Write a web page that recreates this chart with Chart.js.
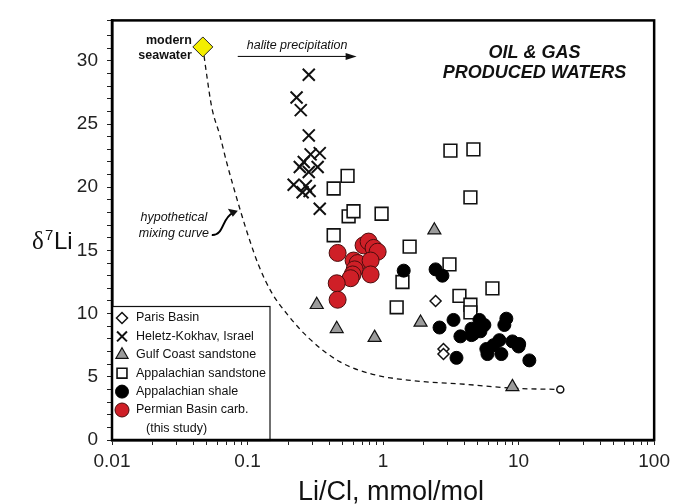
<!DOCTYPE html>
<html>
<head>
<meta charset="utf-8">
<title>d7Li vs Li/Cl</title>
<script src="https://cdn.jsdelivr.net/npm/chart.js@4.4.1/dist/chart.umd.min.js"></script>
<style>
  html, body { margin: 0; padding: 0; background: #fff; }
  canvas { display: block; }
</style>
</head>
<body>
<canvas id="grafico" width="675" height="504"></canvas>
<script>
// Values: Li/Cl (mmol/mol) and d7Li (permil)
const parisLiCl = [2.44, 2.79, 2.79];
const parisD7Li = [11.0, 7.2, 6.8];

const heletzLiCl = [0.283, 0.230, 0.247, 0.283, 0.341, 0.260, 0.292, 0.243, 0.283, 0.329, 0.219, 0.269, 0.255, 0.287, 0.341];
const heletzD7Li = [28.9, 27.1, 26.1, 24.1, 22.7, 22.0, 22.6, 21.6, 21.2, 21.6, 20.2, 20.1, 19.6, 19.7, 18.3];

const gulfLiCl = [2.39, 1.89, 0.324, 0.455, 0.866, 9.0];
const gulfD7Li = [16.6, 9.3, 10.7, 8.8, 8.1, 4.2];

const appSandLiCl = [3.14, 4.64, 4.41, 0.547, 0.432, 0.557, 0.605, 0.975, 0.432, 1.57, 3.09, 1.39, 3.66, 6.41, 4.41, 4.41, 1.26];
const appSandD7Li = [22.9, 23.0, 19.2, 20.9, 19.9, 17.7, 18.1, 17.9, 16.2, 15.3, 13.9, 12.5, 11.4, 12.0, 10.7, 10.1, 10.5];

const appShaleLiCl = [1.42, 2.44, 2.74, 2.61, 3.31, 3.72, 4.49, 4.49, 5.14, 5.59, 5.23, 4.64, 8.12, 7.85, 7.21, 6.52, 5.78, 5.89, 7.46, 9.0, 10.1, 10.0, 3.48, 12.0];
const appShaleD7Li = [13.4, 13.5, 13.0, 8.9, 9.5, 8.2, 8.8, 8.3, 9.5, 9.1, 8.6, 8.4, 9.6, 9.1, 7.9, 7.5, 7.2, 6.8, 6.8, 7.8, 7.6, 7.4, 6.5, 6.3];

const permianLiCl = [0.462, 0.718, 0.782, 0.851, 0.912, 0.606, 0.649, 0.809, 0.617, 0.596, 0.576, 0.809, 0.455, 0.462];
const permianD7Li = [14.8, 15.4, 15.7, 15.2, 14.9, 14.2, 14.0, 14.2, 13.5, 13.1, 12.8, 13.1, 12.4, 11.1];

const seawaterLiCl = [0.0468];
const seawaterD7Li = [31.1];

// hypothetical mixing curve
const curveLiCl = [0.0468, 0.0501, 0.0545, 0.0625, 0.0700, 0.0779, 0.0900, 0.103, 0.121, 0.150, 0.198, 0.287, 0.478, 0.837, 1.65, 4.12, 9.0, 20.3];
const curveD7Li = [31.1, 28.8, 26.3, 24.1, 22.0, 20.2, 17.9, 15.9, 13.8, 11.7, 9.9, 8.0, 6.2, 5.2, 4.7, 4.4, 4.1, 4.0];
const curveEndLiCl = [20.3];
const curveEndD7Li = [4.0];

// axes
const xMajor = [0.01, 0.1, 1, 10, 100];
const xTickLabels = ['0.01', '0.1', '1', '10', '100'];
const yMin = 0;
const yMax = 33.2;

const FONT = "'Liberation Sans', Arial, sans-serif";

function puntos(xs, ys) {
    return xs.map((x, i) => ({ x: x, y: ys[i] }));
}

const datasets = [
    {
        label: 'modern seawater', data: puntos(seawaterLiCl, seawaterD7Li),
        pointStyle: 'rectRot', pointRadius: 10, backgroundColor: '#f4ee00', borderColor: '#222', borderWidth: 1, order: 0
    },
    {
        label: 'Permian Basin carb.', data: puntos(permianLiCl, permianD7Li),
        pointStyle: 'circle', pointRadius: 8.5, backgroundColor: '#cf1f27', borderColor: '#4a0c0c', borderWidth: 1, order: 1
    },
    {
        label: 'Appalachian shale', data: puntos(appShaleLiCl, appShaleD7Li),
        pointStyle: 'circle', pointRadius: 6.5, backgroundColor: '#000', borderColor: '#000', borderWidth: 1, order: 2
    },
    {
        label: 'Appalachian sandstone', data: puntos(appSandLiCl, appSandD7Li),
        pointStyle: 'rect', pointRadius: 9, backgroundColor: '#fff', borderColor: '#111', borderWidth: 1.6, order: 3
    },
    {
        label: 'Gulf Coast sandstone', data: puntos(gulfLiCl, gulfD7Li),
        pointStyle: 'triangle', pointRadius: 7.5, backgroundColor: '#9b9b9b', borderColor: '#111', borderWidth: 1.2, order: 4
    },
    {
        label: 'Heletz-Kokhav, Israel', data: puntos(heletzLiCl, heletzD7Li),
        pointStyle: 'crossRot', pointRadius: 8.5, backgroundColor: '#000', borderColor: '#111', borderWidth: 2, order: 5
    },
    {
        label: 'Paris Basin', data: puntos(parisLiCl, parisD7Li),
        pointStyle: 'rectRot', pointRadius: 5.5, backgroundColor: '#fff', borderColor: '#111', borderWidth: 1.5, order: 6
    },
    {
        label: 'curve end', data: puntos(curveEndLiCl, curveEndD7Li),
        pointStyle: 'circle', pointRadius: 3.5, backgroundColor: '#fff', borderColor: '#111', borderWidth: 1.5, order: 7
    },
    {
        label: 'mixing curve', data: puntos(curveLiCl, curveD7Li),
        showLine: true, borderColor: '#111', borderWidth: 1.3, borderDash: [5, 4],
        cubicInterpolationMode: 'monotone', pointRadius: 0, order: 8
    }
];

// legend entries, in the order of the figure
const legendOrder = ['Paris Basin', 'Heletz-Kokhav, Israel', 'Gulf Coast sandstone', 'Appalachian sandstone', 'Appalachian shale', 'Permian Basin carb.'];

// Frame, legend box and annotations
const decoraciones = {
    id: 'decoraciones',
    afterDraw(chart) {
        const ctx = chart.ctx;
        const area = chart.chartArea;
        const xs = chart.scales.x;
        const ys = chart.scales.y;
        const px = (xv, yv) => ({ x: xs.getPixelForValue(xv), y: ys.getPixelForValue(yv) });

        ctx.save();

        // legend box
        const lx = area.left, ly = area.bottom - 134, lw = 158, lh = 134;
        ctx.fillStyle = '#fff';
        ctx.fillRect(lx, ly, lw, lh);
        ctx.strokeStyle = '#111';
        ctx.lineWidth = 1.2;
        ctx.strokeRect(lx, ly + 0.5, lw, lh);

        ctx.font = '12.5px ' + FONT;
        ctx.textBaseline = 'middle';
        ctx.textAlign = 'left';
        legendOrder.forEach((name, i) => {
            const ds = chart.data.datasets.find(d => d.label === name);
            const yy = ly + 12 + i * 18.4;
            ctx.fillStyle = ds.backgroundColor;
            ctx.strokeStyle = ds.borderColor;
            ctx.lineWidth = ds.borderWidth;
            Chart.helpers.drawPoint(ctx, {
                pointStyle: ds.pointStyle,
                radius: Math.min(ds.pointRadius, 7),
                rotation: 0,
                borderWidth: ds.borderWidth
            }, lx + 10, yy);
            ctx.fillStyle = '#111';
            ctx.fillText(name, lx + 24, yy);
        });
        ctx.fillText('(this study)', lx + 34, ly + 12 + 6 * 18.4);

        // plot frame
        ctx.strokeStyle = '#000';
        ctx.lineWidth = 2.5;
        ctx.strokeRect(area.left, area.top, area.right - area.left, area.bottom - area.top);

        // modern seawater label
        const sw = px(seawaterLiCl[0], seawaterD7Li[0]);
        ctx.fillStyle = '#111';
        ctx.font = 'bold 12.5px ' + FONT;
        ctx.textAlign = 'right';
        ctx.fillText('modern', sw.x - 11, sw.y - 6);
        ctx.fillText('seawater', sw.x - 11, sw.y + 9);

        // halite precipitation arrow
        const a0 = px(0.0847, 30.35);
        const a1 = px(0.638, 30.35);
        ctx.font = 'italic 12.5px ' + FONT;
        ctx.textAlign = 'left';
        ctx.fillText('halite precipitation', px(0.0987, 31.2).x, px(0.0987, 31.2).y);
        ctx.lineWidth = 1;
        ctx.beginPath();
        ctx.moveTo(a0.x, a0.y);
        ctx.lineTo(a1.x - 6, a1.y);
        ctx.stroke();
        ctx.beginPath();
        ctx.moveTo(a1.x, a1.y);
        ctx.lineTo(a1.x - 11, a1.y - 3.5);
        ctx.lineTo(a1.x - 11, a1.y + 3.5);
        ctx.closePath();
        ctx.fill();

        // title inside the plot
        ctx.font = 'bold italic 18px ' + FONT;
        ctx.textAlign = 'center';
        const t1 = px(13.1, 30.6);
        const t2 = px(13.1, 29.0);
        ctx.fillText('OIL & GAS', t1.x, t1.y);
        ctx.fillText('PRODUCED WATERS', t2.x, t2.y);

        // hypothetical mixing curve label with curved arrow
        ctx.font = 'italic 12.5px ' + FONT;
        const h1 = px(0.0286, 17.6);
        const h2 = px(0.0286, 16.3);
        ctx.fillText('hypothetical', h1.x, h1.y);
        ctx.fillText('mixing curve', h2.x, h2.y);
        const c0 = px(0.0545, 16.3);
        const c1 = px(0.0848, 18.05);
        ctx.lineWidth = 2;
        ctx.beginPath();
        ctx.moveTo(c0.x, c0.y + 1);
        ctx.bezierCurveTo(c0.x + 12, c0.y + 2, c1.x - 16, c1.y + 6, c1.x - 5, c1.y + 1);
        ctx.stroke();
        ctx.beginPath();
        ctx.moveTo(c1.x, c1.y - 1);
        ctx.lineTo(c1.x - 10, c1.y - 3);
        ctx.lineTo(c1.x - 5, c1.y + 5);
        ctx.closePath();
        ctx.fill();

        // axis titles
        ctx.textAlign = 'left';
        ctx.textBaseline = 'alphabetic';
        ctx.font = '25px "Liberation Serif", serif';
        ctx.fillText('δ', 32, 249);
        ctx.font = '15px ' + FONT;
        ctx.fillText('7', 45, 240);
        ctx.font = '24px ' + FONT;
        ctx.fillText('Li', 54, 249);

        ctx.font = '27px ' + FONT;
        ctx.textAlign = 'center';
        ctx.fillText('Li/Cl, mmol/mol', (area.left + area.right) / 2 + 8, 500);

        ctx.restore();
    }
};

const graph = document.querySelector('#grafico');

const config = {
    type: 'scatter',
    data: { datasets: datasets },
    options: {
        responsive: false,
        animation: false,
        events: [],
        layout: { padding: { top: 12, right: 20, left: 0, bottom: 0 } },
        plugins: {
            legend: { display: false },
            tooltip: { enabled: false }
        },
        scales: {
            x: {
                type: 'logarithmic',
                min: xMajor[0],
                max: xMajor[xMajor.length - 1],
                afterFit: (scale) => { scale.height = 64; },
                afterBuildTicks: (scale) => {
                    // major decades plus 2..9 minor marks
                    const ticks = [];
                    xMajor.forEach((v, i) => {
                        if (i === xMajor.length - 1) {
                            ticks.push({ value: v });
                            return;
                        }
                        for (let m = 1; m < 10; m++) ticks.push({ value: v * m });
                    });
                    scale.ticks = ticks;
                },
                grid: { drawOnChartArea: false, drawTicks: true, tickLength: 5, color: '#222', lineWidth: 1 },
                border: { display: true, color: '#000', width: 2.5 },
                ticks: {
                    autoSkip: false,
                    maxRotation: 0,
                    padding: 5,
                    color: '#222',
                    font: { family: FONT, size: 19 },
                    callback: (value) => {
                        const i = xMajor.findIndex(m => Math.abs(m - value) / m < 1e-6);
                        return i >= 0 ? xTickLabels[i] : '';
                    }
                }
            },
            y: {
                type: 'linear',
                min: yMin,
                max: yMax,
                afterFit: (scale) => { scale.width = 112; },
                grid: { drawOnChartArea: false, drawTicks: true, tickLength: 5, color: '#222', lineWidth: 1 },
                border: { display: true, color: '#000', width: 2.5 },
                ticks: {
                    stepSize: 1,
                    autoSkip: false,
                    padding: 9,
                    color: '#222',
                    font: { family: FONT, size: 19 },
                    callback: (value) => (value % 5 === 0 ? value : '')
                }
            }
        }
    },
    plugins: [decoraciones]
};

// Crear el grafico
const chartInstance = new Chart(graph, config);
</script>
</body>
</html>
